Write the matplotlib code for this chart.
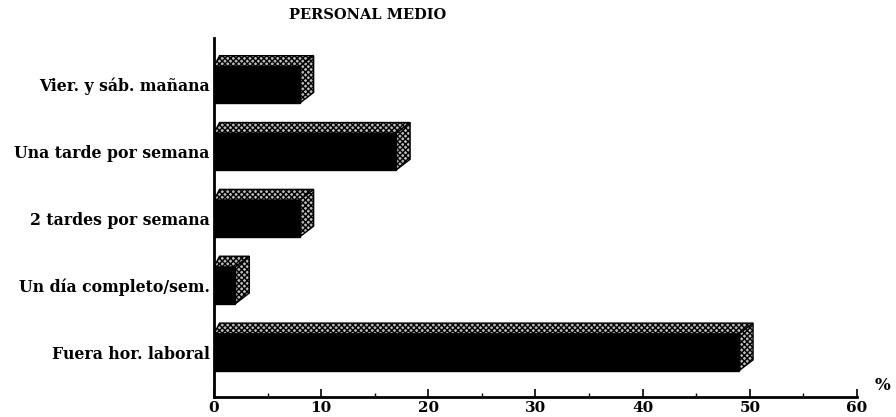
import matplotlib
matplotlib.use('Agg')
import matplotlib.pyplot as plt
from matplotlib.patches import Polygon
from matplotlib.ticker import MultipleLocator

# categories from bottom to top
categories = ['Fuera hor. laboral', 'Un día completo/sem.', '2 tardes por semana',
              'Una tarde por semana', 'Vier. y sáb. mañana']
values = [49, 2, 8, 17, 8]
title = 'PERSONAL MEDIO'

plt.rcParams['font.family'] = ['DejaVu Serif']
plt.rcParams['font.weight'] = 'bold'

fig = plt.figure(figsize=(8.96, 4.17), dpi=100)
ax = fig.add_axes([0.2388, 0.048, 0.7177, 0.861])

h = 0.55   # bar thickness
dx = 1.3   # depth offset (x)
dy = 0.16  # depth offset (y)

ys = list(range(len(categories)))
ax.barh(ys, values, height=h, color='black', edgecolor='black', zorder=3)

# 3d top and side faces
for y, v in zip(ys, values):
    top = [(0, y + h / 2), (v, y + h / 2), (v + dx, y + h / 2 + dy), (dx * 0.4, y + h / 2 + dy)]
    side = [(v, y - h / 2), (v + dx, y - h / 2 + dy), (v + dx, y + h / 2 + dy), (v, y + h / 2)]
    for pts in (top, side):
        ax.add_patch(Polygon(pts, closed=True, facecolor='#bbbbbb', edgecolor='black',
                             hatch='xxxxxx', linewidth=1.0, zorder=2))

ax.set_xlim(0, 60)
ax.set_ylim(-0.67, 4.7)
ax.set_yticks(ys)
ax.set_yticklabels(categories, fontsize=11.3, fontweight='bold')
ax.xaxis.set_major_locator(MultipleLocator(10))
ax.xaxis.set_minor_locator(MultipleLocator(5))
ax.tick_params(axis='x', which='major', direction='in', length=6, width=1.2, labelsize=11, pad=3)
ax.tick_params(axis='x', which='minor', direction='in', length=3, width=1.0)
ax.tick_params(axis='y', length=0, pad=3)
for lab in ax.get_xticklabels():
    lab.set_fontweight('bold')

ax.spines['top'].set_visible(False)
ax.spines['right'].set_visible(False)
ax.spines['left'].set_linewidth(2)
ax.spines['bottom'].set_linewidth(2)

fig.text(0.985, 0.075, '%', fontsize=12, fontweight='bold', ha='center', va='center')
fig.text(0.41, 0.963, title, fontsize=10.5, fontweight='bold', ha='center', va='center')

fig.savefig('out.png', dpi=100)
